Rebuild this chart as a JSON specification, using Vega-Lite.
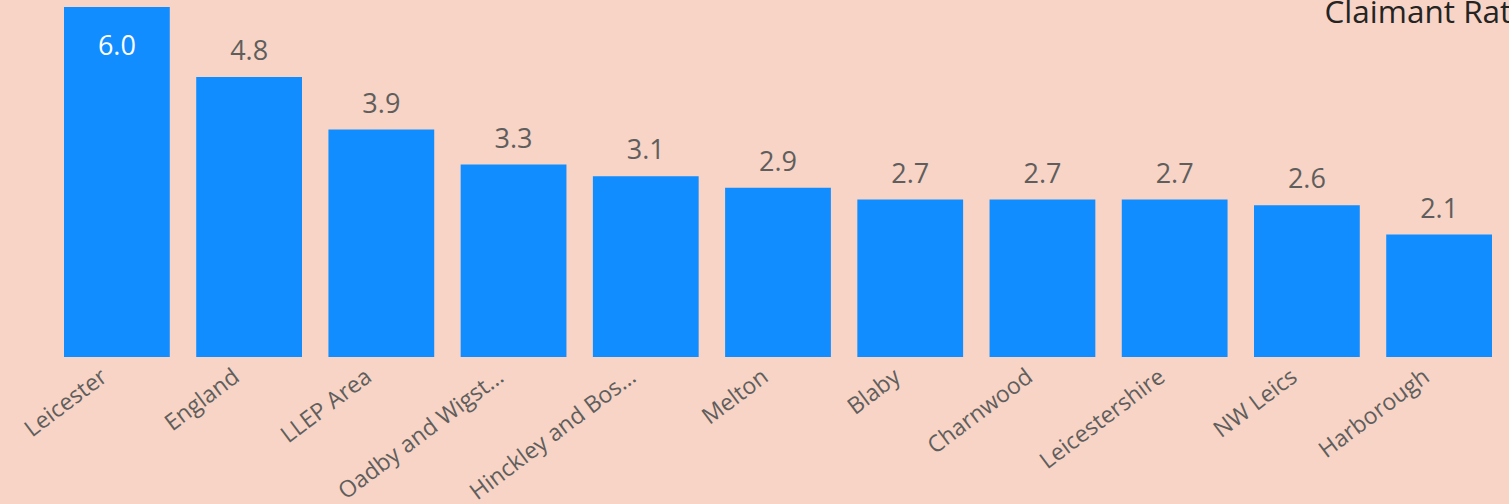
{
  "$schema": "https://vega.github.io/schema/vega-lite/v6.json",
  "width": 1428,
  "height": 350,
  "autosize": {"type": "none"},
  "padding": {"left": 64, "top": 7, "right": 17, "bottom": 147},
  "background": "#F7D4C6",
  "config": {"view": {"stroke": null}, "font": "Open Sans"},
  "title": {
    "text": "Claimant Rate",
    "anchor": "end",
    "frame": "group",
    "orient": "top",
    "offset": 0,
    "dx": 37,
    "dy": 47,
    "baseline": "alphabetic",
    "fontSize": 31.5,
    "fontWeight": "normal",
    "color": "#252423",
    "font": "Open Sans"
  },
  "data": {
    "values": [
      {"area": "Leicester", "rate": 6.0},
      {"area": "England", "rate": 4.8},
      {"area": "LLEP Area", "rate": 3.9},
      {"area": "Oadby and Wigston", "rate": 3.3},
      {"area": "Hinckley and Bosworth", "rate": 3.1},
      {"area": "Melton", "rate": 2.9},
      {"area": "Blaby", "rate": 2.7},
      {"area": "Charnwood", "rate": 2.7},
      {"area": "Leicestershire", "rate": 2.7},
      {"area": "NW Leics", "rate": 2.6},
      {"area": "Harborough", "rate": 2.1}
    ]
  },
  "encoding": {
    "x": {
      "field": "area",
      "type": "nominal",
      "sort": null,
      "scale": {"paddingInner": 0.2, "paddingOuter": 0},
      "axis": {
        "title": null,
        "domain": false,
        "ticks": false,
        "labelAngle": -37,
        "labelFontSize": 23,
        "labelColor": "#605E5C",
        "labelPadding": 8,
        "labelOffset": -19,
        "labelLimit": 204,
        "labelFont": "Open Sans"
      }
    },
    "y": {
      "field": "rate",
      "type": "quantitative",
      "scale": {"domain": [0, 6], "nice": false, "zero": true},
      "axis": null
    }
  },
  "layer": [
    {"mark": {"type": "bar", "color": "#118DFF"}},
    {
      "transform": [{"filter": "datum.rate < 5.5"}],
      "mark": {"type": "text", "baseline": "alphabetic", "dy": -17, "fontSize": 27, "color": "#605E5C", "font": "Open Sans"},
      "encoding": {"text": {"field": "rate", "type": "quantitative", "format": ".1f"}}
    },
    {
      "transform": [{"filter": "datum.rate >= 5.5"}],
      "mark": {"type": "text", "baseline": "alphabetic", "dy": 48, "fontSize": 27, "color": "#FFFFFF", "font": "Open Sans"},
      "encoding": {"text": {"field": "rate", "type": "quantitative", "format": ".1f"}}
    }
  ]
}
